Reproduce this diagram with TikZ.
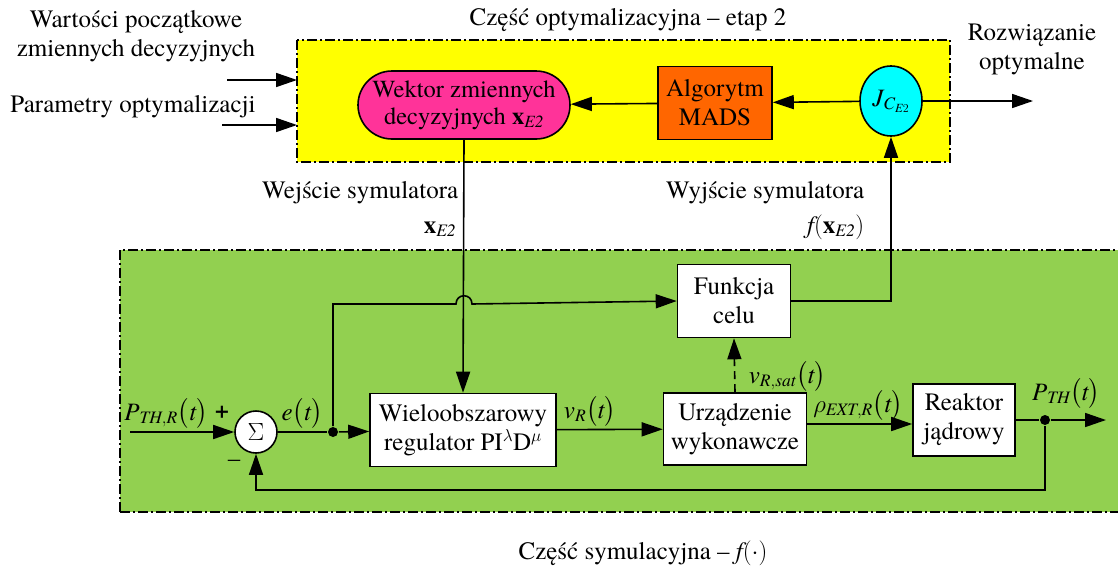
\documentclass[tikz,border=0pt]{standalone}
\usepackage{amsmath}
\usepackage{fontspec}
\IfFontExistsTF{texgyretermes-regular.otf}{%
  \setmainfont{texgyretermes}[Extension=.otf,UprightFont=*-regular,BoldFont=*-bold,ItalicFont=*-italic,BoldItalicFont=*-bolditalic]}{%
  \setmainfont{Liberation Serif}}
\usetikzlibrary{arrows.meta,shapes.geometric}
\newcommand\ti[1]{\textit{#1}}
\definecolor{ygl}{RGB}{255,255,0}
\definecolor{grn}{RGB}{146,208,80}
\definecolor{pnk}{RGB}{255,51,153}
\definecolor{org}{RGB}{255,102,0}
\definecolor{cyn}{RGB}{0,255,255}
\begin{document}
\begin{tikzpicture}[x=1pt,y=-1pt,
  font=\fontsize{25}{29}\selectfont,
  line width=1.6pt,
  >={Triangle[length=21pt,width=14pt]},
  blk/.style={draw, fill=white, align=center, inner sep=2pt},
  frame/.style={line width=1.3pt, dash pattern=on 10pt off 3pt on 2pt off 3pt},
  lbl/.style={inner sep=0pt, anchor=base},
  dot/.style={circle, fill=black, inner sep=0pt, minimum size=10pt}]
\useasboundingbox (0,0) rectangle (1118,568);
% background regions
\fill[ygl] (297,40) rectangle (950,162);
\draw[frame] (297,40) rectangle (950,162);
\fill[grn] (120,250) rectangle (1118,512);
\draw[frame] (120,512) -- (120,250) -- (1118,250);
\draw[frame] (120,512) -- (1118,512);
% titles
\node[lbl] (t1) at (628,25) {Część optymalizacyjna -- etap 2};
\node[lbl] (t2) at (643,559) {Część symulacyjna -- $\ti{f}(\cdot)$};
% top nodes
\node[draw, fill=pnk, rounded corners=34pt, minimum width=212pt, minimum height=68pt, align=center, inner sep=2pt, font=\fontsize{24.5}{27}\selectfont] (wek) at (464,105) {Wektor zmiennych\\decyzyjnych $\textbf{x}_{\ti{E2}}$};
\node[draw, fill=org, minimum width=114pt, minimum height=73pt, align=center] (mads) at (715,103) {Algorytm\\MADS};
\node[draw, ellipse, fill=cyn, minimum width=62pt, minimum height=70pt, inner sep=0pt] (jc) at (891,101) {$\ti{J}_{\ti{C}_{\ti{E}2}}$};
\coordinate (out) at (1033,101);
\node[lbl, align=center, anchor=north] (roz) at (1032,23) {Rozwiązanie\\optymalne};
\node[lbl, align=center, anchor=north] (war) at (136,10) {Wartości początkowe\\zmiennych decyzyjnych};
\node[lbl] (par) at (133,112) {Parametry optymalizacji};
\coordinate (in1s) at (227,80); \coordinate (in1e) at (297,80);
\coordinate (in2s) at (222,125); \coordinate (in2e) at (297,125);
\draw[->] (in1s) -- (in1e);
\draw[->] (in2s) -- (in2e);
\draw[->] (jc) -- (mads);
\draw[->] (mads) -- (wek);
\draw[->] (jc) -- (out);
% labels between
\node[lbl, anchor=base east] (wej) at (459,198) {Wejście symulatora};
\node[lbl, anchor=base east] (wejx) at (457,233) {$\textbf{x}_{\ti{E2}}$};
\node[lbl, anchor=base east] (wyj) at (865,198) {Wyjście symulatora};
\node[lbl, anchor=base east] (wyjf) at (865,233) {$\ti{f}(\textbf{x}_{\ti{E2}})$};
% simulation nodes
\node[draw, circle, fill=white, minimum size=42pt, inner sep=0pt, font=\fontsize{30}{30}\selectfont] (sum) at (256,432) {$\Sigma$};
\node[blk, minimum width=186pt, minimum height=73pt] (reg) at (463,430) {Wieloobszarowy\\regulator PI$^{\lambda}$D$^{\mu}$};
\node[blk, minimum width=113pt, minimum height=73pt] (fc) at (734,301) {Funkcja\\celu};
\node[blk, minimum width=143pt, minimum height=72pt] (urz) at (735,429) {Urządzenie\\wykonawcze};
\node[blk, minimum width=102pt, minimum height=72pt] (rea) at (964,420) {Reaktor\\jądrowy};
\coordinate (pin) at (130,432);
\coordinate (rholine) at (0,424);
\node[dot] (d1) at (333,432) {};
\node[dot] (d2) at (1045,420) {};
\coordinate (pout) at (1106,420);
\coordinate (fb) at (1045,490);
% signal labels
\node[lbl] (lp) at (166,420) {$\ti{P}_{\ti{TH},\ti{R}}\bigl(\ti{t}\bigr)$};
\node[lbl] (lplus) at (222,418) {\textbf{+}};
\node[lbl] (lminus) at (234,466) {--};
\node[lbl] (le) at (302,420) {$\ti{e}\bigl(\ti{t}\bigr)$};
\node[lbl] (lv) at (590,418) {$\ti{v}_{\ti{R}}\bigl(\ti{t}\bigr)$};
\node[lbl, anchor=base west] (lvs) at (748,383) {$\ti{v}_{\ti{R},\ti{sat}}\bigl(\ti{t}\bigr)$};
\node[lbl] (lrho) at (858,412) {$\rho_{\ti{EXT},\ti{R}}\bigl(\ti{t}\bigr)$};
\node[lbl] (lpth) at (1066,400) {$\ti{P}_{\ti{TH}}\bigl(\ti{t}\bigr)$};
% connectors
\draw[->] (pin) -- (sum);
\draw (sum) -- (d1);
\draw[->] (d1) -- (reg);
\draw[->] (d1) |- (456,304) .. controls (456,293) and (472,293) .. (472,304) -- (fc.west);
\draw[->] (wek.south) -- (reg.north);
\draw[->] (reg) -- (urz);
\draw[->, dash pattern=on 8pt off 5pt] (urz.north) -- (fc.south);
\draw[->] (urz.east |- rholine) -- (rea.west |- rholine);
\draw (rea) -- (d2);
\draw[->] (d2) -- (pout);
\draw[->] (d2) -- (fb) -| (sum.south);
\draw[->] (fc.east) -| (jc.south);
\end{tikzpicture}
\end{document}
